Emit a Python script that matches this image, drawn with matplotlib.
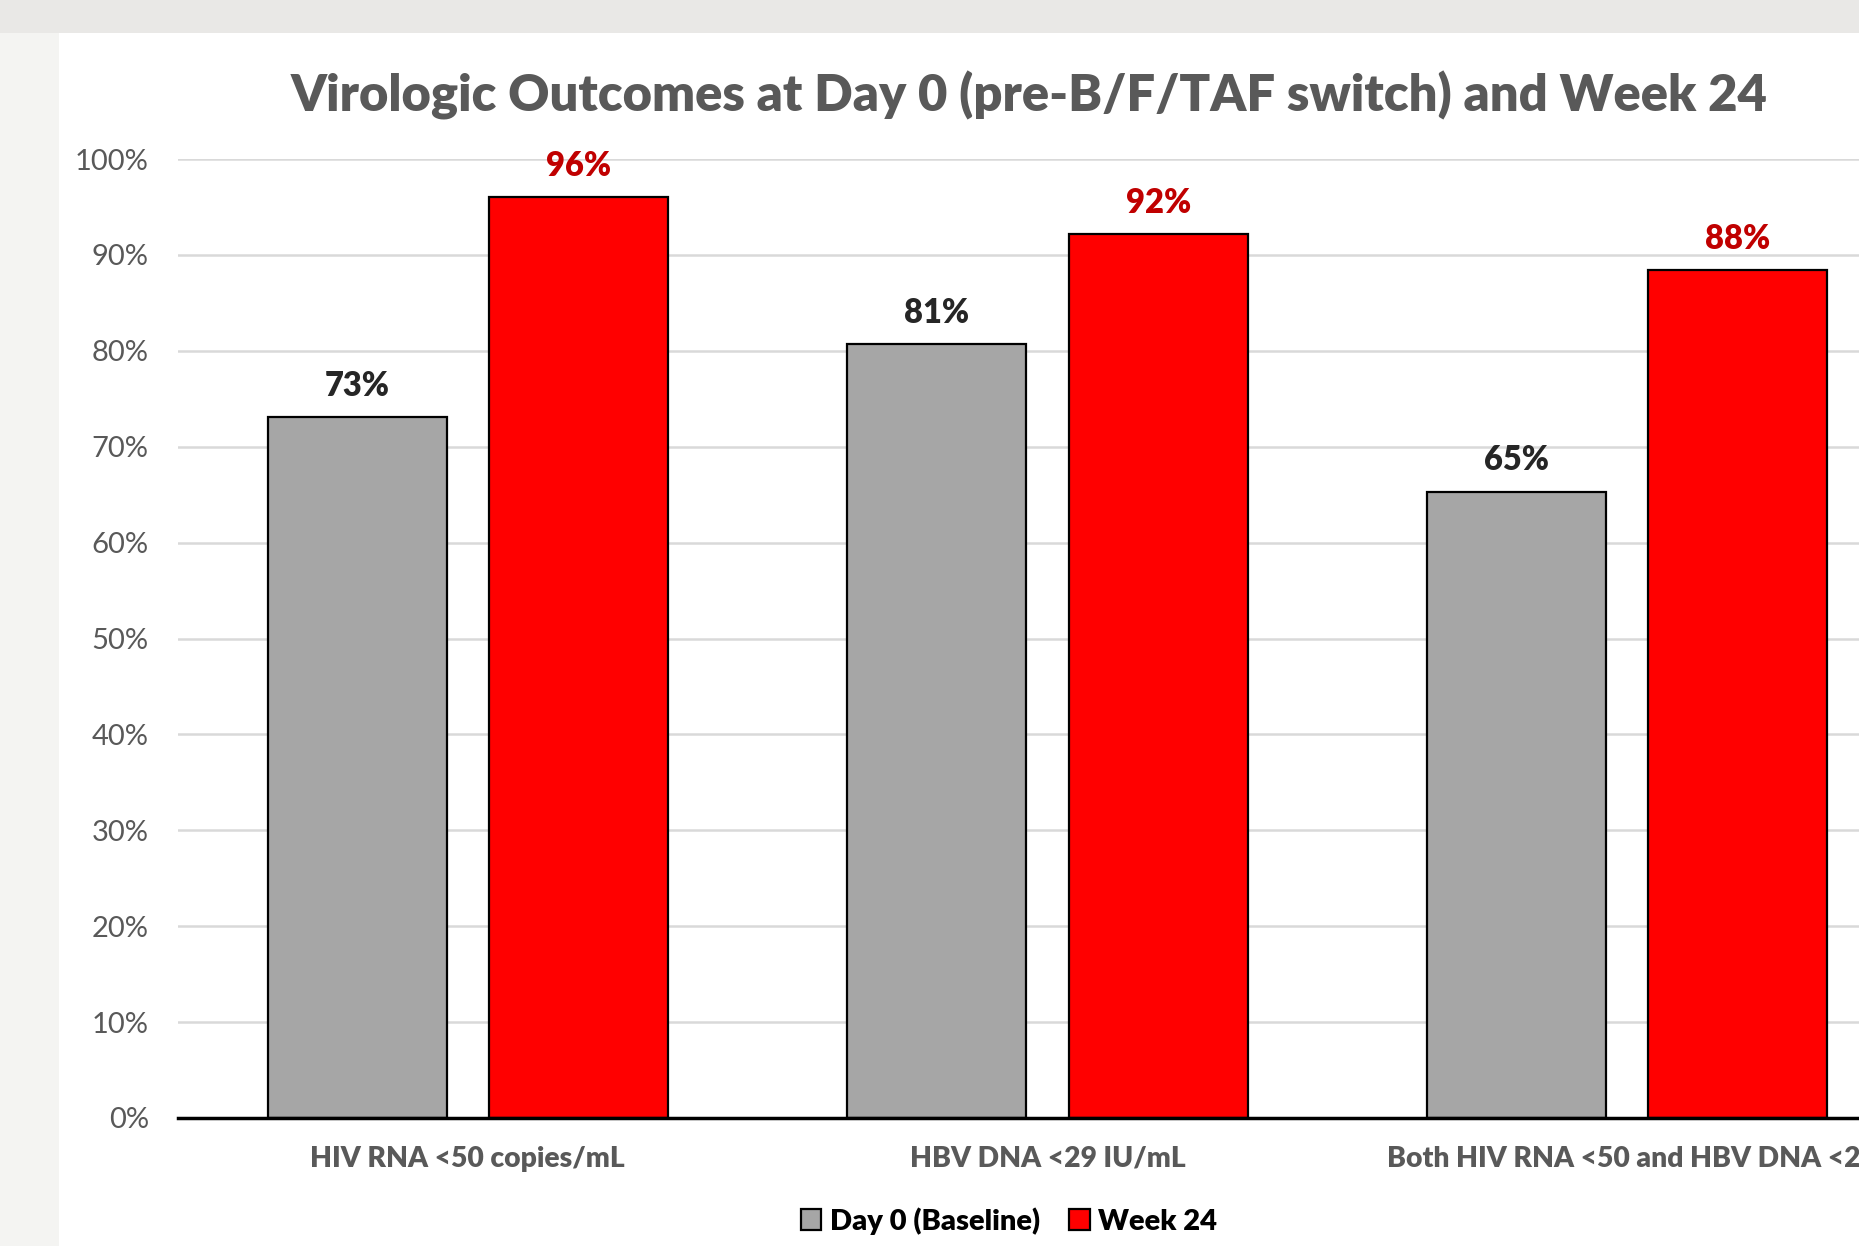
import matplotlib
matplotlib.use("Agg")
import matplotlib.pyplot as plt
from matplotlib.patches import Rectangle
import numpy as np

plt.rcParams['font.family'] = ['Lato', 'DejaVu Sans']

categories = ["HIV RNA <50 copies/mL", "HBV DNA <29 IU/mL",
              "Both HIV RNA <50 and HBV DNA <29 IU/mL"]
series_names = ["Day 0 (Baseline)", "Week 24"]
day0 = [73.1, 80.7, 65.3]
week24 = [96.0, 92.2, 88.4]
yticks = [0, 10, 20, 30, 40, 50, 60, 70, 80, 90, 100]
title = "Virologic Outcomes at Day 0 (pre-B/F/TAF switch) and Week 24"

BOLD = "heavy"

W, H = 1859, 1246
fig = plt.figure(figsize=(W / 100, H / 100), dpi=100)
fig.patch.set_facecolor("white")
# slide background strips
fig.patches.append(Rectangle((0, 0), 59 / W, 1, transform=fig.transFigure,
                             facecolor="#F4F4F2", edgecolor="none", zorder=-10))
fig.patches.append(Rectangle((0, 1 - 33 / H), 1, 33 / H, transform=fig.transFigure,
                             facecolor="#E9E8E6", edgecolor="none", zorder=-9))

ax_left = 178 / W
ax_right = 1917 / W
ax_bottom = 1 - 1118 / H
ax_top = 1 - 159 / H
ax = fig.add_axes([ax_left, ax_bottom, ax_right - ax_left, ax_top - ax_bottom])
ax.set_facecolor("none")

x = np.arange(len(categories))
bw = 0.309
off = 0.191
b1 = ax.bar(x - off, day0, bw, color="#A6A6A6", edgecolor="black", linewidth=1.6, zorder=3)
b2 = ax.bar(x + off, week24, bw, color="#FF0000", edgecolor="black", linewidth=1.6, zorder=3)

for rect, v in zip(b1, day0):
    ax.annotate(f"{v:.0f}%", (rect.get_x() + rect.get_width() / 2, v),
                xytext=(0, 11), textcoords="offset points", ha="center", va="bottom",
                fontsize=23.5, fontweight=BOLD, color="#262626")
for rect, v in zip(b2, week24):
    ax.annotate(f"{v:.0f}%", (rect.get_x() + rect.get_width() / 2, v),
                xytext=(0, 11), textcoords="offset points", ha="center", va="bottom",
                fontsize=23.5, fontweight=BOLD, color="#C00000")

ax.set_xlim(-0.5, len(categories) - 0.5)
ax.set_ylim(0, 100)
ax.set_yticks(yticks)
ax.set_yticklabels([f"{t}%" for t in yticks], fontsize=21, color="#595959")
ax.yaxis.grid(True, color="#D9D9D9", linewidth=1.8, zorder=0)
ax.set_axisbelow(True)
ax.tick_params(axis="y", length=0, pad=21)
ax.tick_params(axis="x", length=0, pad=20)
ax.set_xticks(x[:2])
ax.set_xticklabels(categories[:2], fontsize=20.3, fontweight=BOLD, color="#595959")
ax.text(1387 / W, 1 - 1159 / H, categories[2], transform=fig.transFigure,
        ha="left", va="center", fontsize=20.3, fontweight=BOLD, color="#595959")
for s in ["top", "right", "left"]:
    ax.spines[s].set_visible(False)
ax.spines["bottom"].set_linewidth(2.5)
ax.spines["bottom"].set_color("black")
ax.spines["bottom"].set_zorder(4)

fig.text(1029 / W, 1 - 95 / H, title, ha="center", va="center",
         fontsize=36.5, fontweight=BOLD, color="#595959")

leg = fig.legend([b1, b2], series_names, loc="center", bbox_to_anchor=(1009 / W, 1 - 1221 / H),
                 ncol=2, frameon=False, handlelength=0.7, handleheight=0.7,
                 handletextpad=0.3, columnspacing=1.0,
                 prop={"size": 21, "weight": BOLD})

fig.savefig("out.png", dpi=100)
